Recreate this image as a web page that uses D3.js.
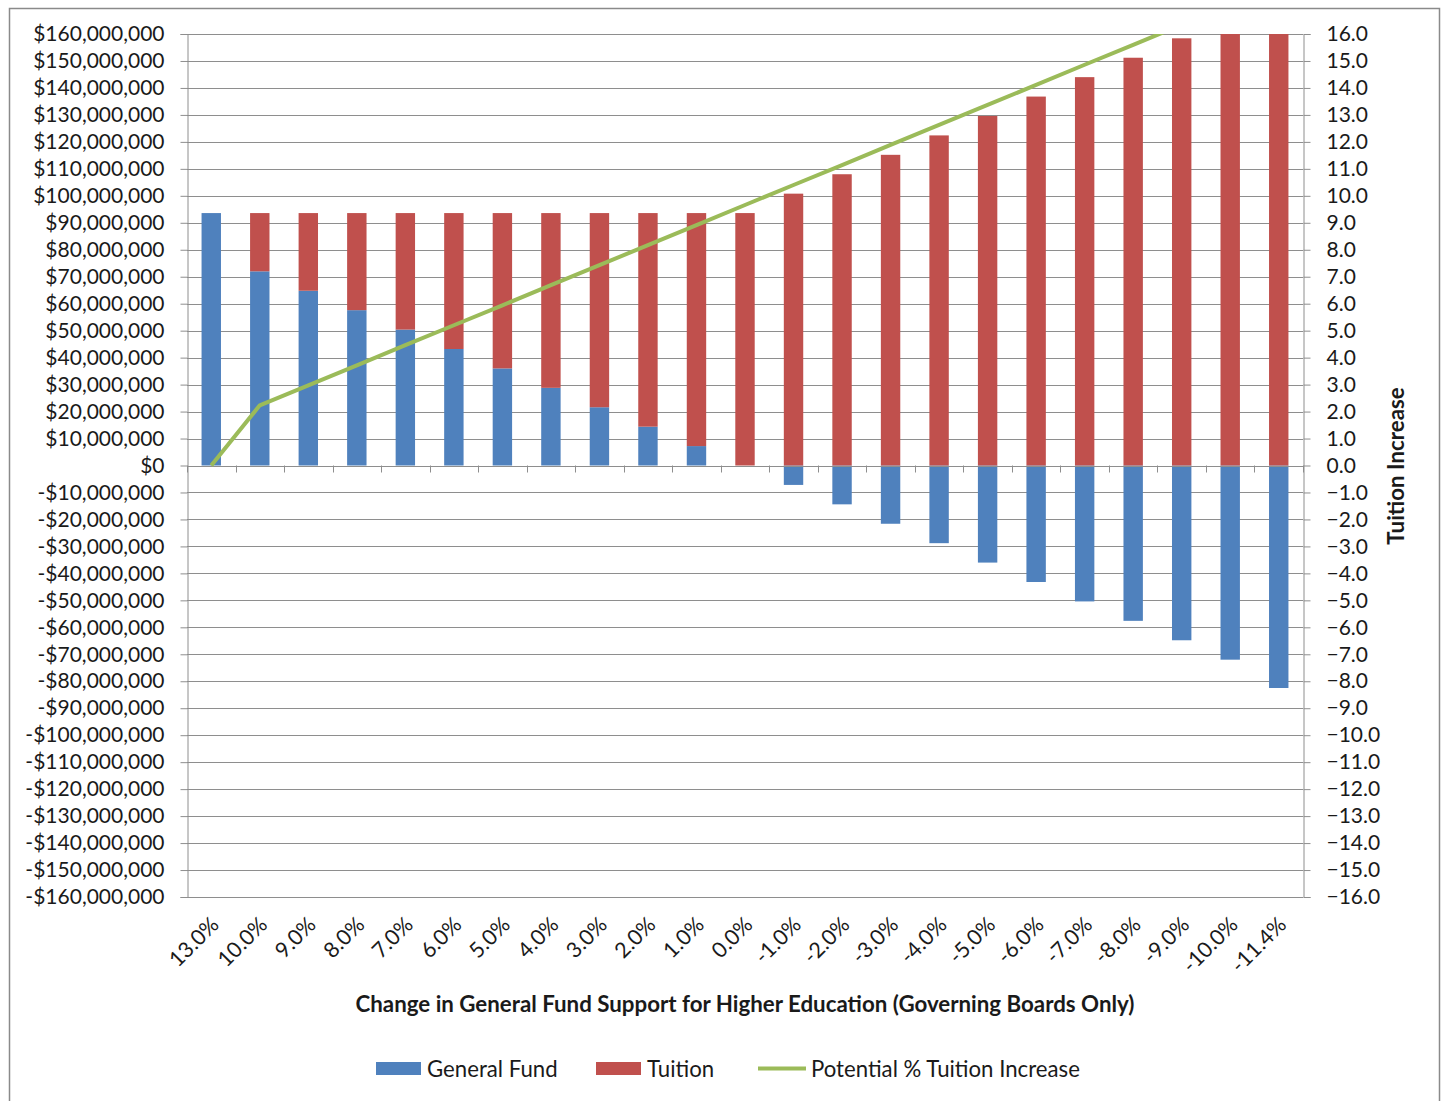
<!DOCTYPE html>
<html>
<head>
<meta charset="utf-8">
<script src="https://cdn.jsdelivr.net/npm/d3@7"></script>
<style>
  html, body { margin: 0; padding: 0; background: #fff; }
  svg { display: block; font-family: Lato, "Open Sans", sans-serif; }
</style>
</head>
<body>
<svg id="chart" width="1446" height="1101"></svg>
<script>
// Change in general fund support (category labels)
const categories = ["13.0%","10.0%","9.0%","8.0%","7.0%","6.0%","5.0%","4.0%","3.0%","2.0%","1.0%","0.0%",
  "-1.0%","-2.0%","-3.0%","-4.0%","-5.0%","-6.0%","-7.0%","-8.0%","-9.0%","-10.0%","-11.4%"];
// General Fund, millions of dollars
const generalFund = [93.6,72.0,64.8,57.6,50.4,43.2,36.0,28.8,21.6,14.4,7.2,0,
  -7.2,-14.4,-21.6,-28.8,-36.0,-43.2,-50.4,-57.6,-64.8,-72.0,-82.5];
// Tuition, millions of dollars
const tuition = [0,21.6,28.8,36.0,43.2,50.4,57.6,64.8,72.0,79.2,86.4,93.6,
  100.8,108.0,115.2,122.4,129.6,136.8,144.0,151.2,158.4,165.6,176.1];
// Potential % tuition increase (right axis)
const tuitionIncrease = [0,2.23,2.97,3.71,4.46,5.20,5.94,6.69,7.43,8.17,8.91,9.66,
  10.40,11.14,11.89,12.63,13.37,14.11,14.86,15.60,16.34,17.08,18.12];
// Axis tick values
const leftTicks = d3.range(-160, 161, 10);
const rightTicks = d3.range(-16, 16.1, 1);

const seriesNames = ["General Fund", "Tuition"];
const colors = { "General Fund": "#4F81BD", "Tuition": "#C0504D", line: "#9BBB59" };

const svg = d3.select("#chart");
const plot = { left: 187, right: 1303, top: 34, bottom: 897 };
const textColor = "#1a1a1a";

// outer frame
svg.append("rect")
  .attr("x", 9.5).attr("y", 8.5).attr("width", 1430).attr("height", 1110)
  .attr("fill", "#fff").attr("stroke", "#8a8a8a").attr("stroke-width", 1.5);

const x = d3.scaleBand().domain(categories)
  .range([plot.left, plot.right]).paddingInner(0.6).paddingOuter(0.3);
const y = d3.scaleLinear().domain([-160, 160]).range([plot.bottom, plot.top]);
const y2 = d3.scaleLinear().domain([-16, 16]).range([plot.bottom, plot.top]);

const gridColor = "#8e8e8e";

// horizontal gridlines
svg.append("g").selectAll("line").data(leftTicks).join("line")
  .attr("x1", plot.left).attr("x2", plot.right)
  .attr("y1", d => Math.round(y(d)) + 0.5).attr("y2", d => Math.round(y(d)) + 0.5)
  .attr("stroke", gridColor).attr("stroke-width", 1);

// left axis
const fmtMoney = d => d === 0 ? "$0" : (d < 0 ? "-$" : "$") + d3.format(",")(Math.abs(d) * 1e6);
const gLeft = svg.append("g").attr("transform", `translate(${plot.left + 0.5},0)`)
  .call(d3.axisLeft(y).tickValues(leftTicks).tickFormat(fmtMoney).tickSize(7).tickPadding(16));
gLeft.select(".domain").attr("stroke", gridColor);
gLeft.selectAll(".tick line").attr("stroke", gridColor);
gLeft.selectAll(".tick text").attr("font-size", 21).attr("fill", textColor)
  .attr("font-family", "Lato, sans-serif");

// right axis
const gRight = svg.append("g").attr("transform", `translate(${plot.right + 0.5},0)`)
  .call(d3.axisRight(y2).tickValues(rightTicks).tickFormat(d3.format(".1f")).tickSize(7).tickPadding(16));
gRight.select(".domain").attr("stroke", gridColor);
gRight.selectAll(".tick line").attr("stroke", gridColor);
gRight.selectAll(".tick text").attr("font-size", 21).attr("fill", textColor)
  .attr("font-family", "Lato, sans-serif");

// clip region for the plot
svg.append("clipPath").attr("id", "plotClip").append("rect")
  .attr("x", plot.left).attr("y", plot.top)
  .attr("width", plot.right - plot.left).attr("height", plot.bottom - plot.top);

// stacked bars
const rows = categories.map((c, i) => ({ cat: c, "General Fund": generalFund[i], "Tuition": tuition[i] }));
const stacked = d3.stack().keys(seriesNames).offset(d3.stackOffsetDiverging)(rows);

svg.append("g").attr("clip-path", "url(#plotClip)")
  .selectAll("g").data(stacked).join("g")
  .attr("fill", d => colors[d.key])
  .selectAll("rect").data(d => d).join("rect")
  .attr("x", d => x(d.data.cat))
  .attr("width", x.bandwidth())
  .attr("y", d => y(Math.max(d[0], d[1])))
  .attr("height", d => Math.abs(y(d[0]) - y(d[1])));

// category axis along zero, ticks between categories
const boundaries = d3.range(categories.length + 1).map(i => plot.left + i * x.step());
svg.append("g").selectAll("line").data(boundaries).join("line")
  .attr("x1", d => Math.round(d) + 0.5).attr("x2", d => Math.round(d) + 0.5)
  .attr("y1", y(0)).attr("y2", y(0) + 7)
  .attr("stroke", gridColor);
svg.append("line")
  .attr("x1", plot.left).attr("x2", plot.right)
  .attr("y1", Math.round(y(0)) + 0.5).attr("y2", Math.round(y(0)) + 0.5)
  .attr("stroke", gridColor);

// tuition increase line
const line = d3.line()
  .x((d, i) => x(categories[i]) + x.bandwidth() / 2)
  .y(d => y2(d));
svg.append("path").datum(tuitionIncrease)
  .attr("clip-path", "url(#plotClip)")
  .attr("d", line).attr("fill", "none")
  .attr("stroke", colors.line).attr("stroke-width", 4).attr("stroke-linejoin", "round");

// rotated category labels
svg.append("g").selectAll("text").data(categories).join("text")
  .attr("transform", d => `translate(${x(d) + x.bandwidth() / 2 + 9},${plot.bottom + 29}) rotate(-45)`)
  .attr("text-anchor", "end")
  .attr("font-size", 21.5).attr("fill", textColor)
  .text(d => d);

// axis titles
svg.append("text")
  .attr("x", 745).attr("y", 1012).attr("text-anchor", "middle")
  .attr("font-size", 22.3).attr("font-weight", "bold").attr("fill", textColor)
  .text("Change in General Fund Support for Higher Education (Governing Boards Only)");

svg.append("text")
  .attr("transform", `translate(1404,466) rotate(-90)`)
  .attr("text-anchor", "middle")
  .attr("font-size", 22.3).attr("font-weight", "bold").attr("fill", textColor)
  .text("Tuition Increase");

// legend
const legend = svg.append("g").attr("font-size", 22.2).attr("fill", textColor);
const legendItems = [
  { name: "General Fund", type: "bar", x: 376, color: colors["General Fund"] },
  { name: "Tuition", type: "bar", x: 596, color: colors["Tuition"] },
  { name: "Potential % Tuition Increase", type: "line", x: 758, color: colors.line }
];
legendItems.forEach(it => {
  if (it.type === "bar") {
    legend.append("rect").attr("x", it.x).attr("y", 1062).attr("width", 45).attr("height", 13).attr("fill", it.color);
  } else {
    legend.append("line").attr("x1", it.x).attr("x2", it.x + 48).attr("y1", 1068.5).attr("y2", 1068.5)
      .attr("stroke", it.color).attr("stroke-width", 4);
  }
  legend.append("text").attr("x", it.x + (it.type === "bar" ? 51 : 53)).attr("y", 1076.5).text(it.name);
});
</script>
</body>
</html>
